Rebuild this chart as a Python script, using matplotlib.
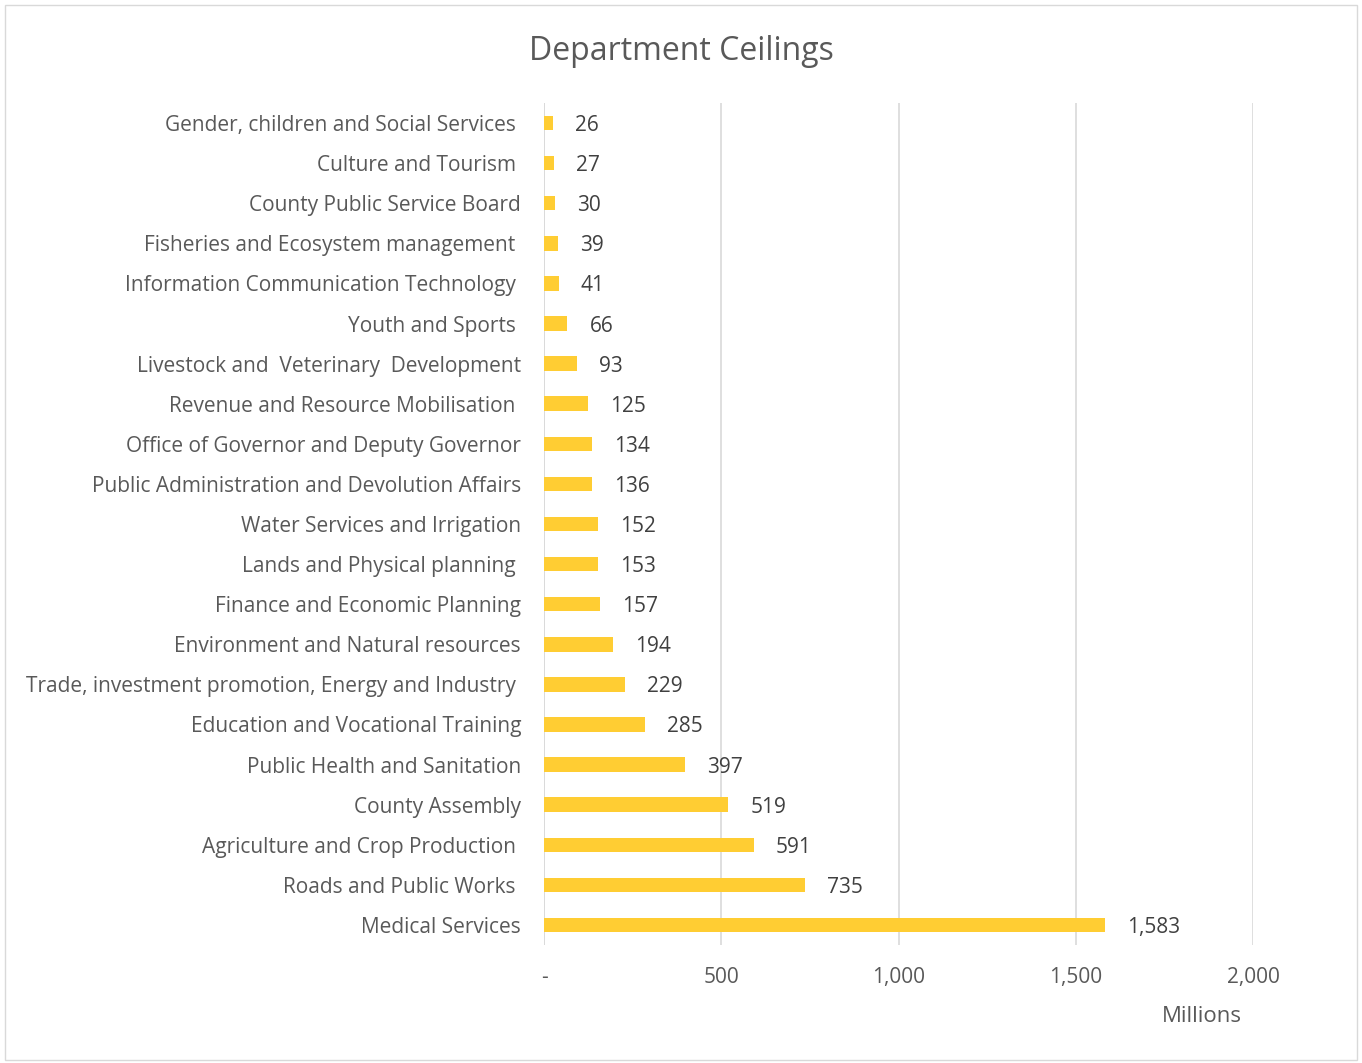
import matplotlib.pyplot as plt
from matplotlib.patches import Rectangle
from matplotlib.ticker import FuncFormatter

plt.rcParams['font.family'] = ['Open Sans', 'DejaVu Sans']

departments = ['Gender, children and Social Services ', 'Culture and Tourism ', 'County Public Service Board',
               'Fisheries and Ecosystem management ', 'Information Communication Technology ',
               'Youth and Sports ', 'Livestock and  Veterinary  Development',
               'Revenue and Resource Mobilisation ', 'Office of Governor and Deputy Governor',
               'Public Administration and Devolution Affairs', 'Water Services and Irrigation',
               'Lands and Physical planning ', 'Finance and Economic Planning',
               'Environment and Natural resources', 'Trade, investment promotion, Energy and Industry ',
               'Education and Vocational Training', 'Public Health and Sanitation', 'County Assembly',
               'Agriculture and Crop Production ', 'Roads and Public Works ', 'Medical Services']
ceilings = [26, 27, 30, 39, 41, 66, 93, 125, 134, 136, 152, 153, 157, 194, 229, 285, 397, 519, 591, 735, 1583]

BAR_COLOR = '#FFCD33'
TEXT_COLOR = '#595959'
FS = 15

fig = plt.figure(figsize=(13.62, 10.63), dpi=100)
ax = fig.add_axes([544/1362, 1-945/1063, (1253-544)/1362, (945-103)/1063])

ypos = list(range(len(departments)))
ax.barh(ypos, ceilings, height=0.36, color=BAR_COLOR, zorder=3)
ax.set_ylim(len(departments)-0.5, -0.5)
ax.set_xlim(0, 2000)
ax.set_yticks(ypos)
ax.set_yticklabels(departments, fontsize=FS, color=TEXT_COLOR)
ax.set_xticks([0, 500, 1000, 1500, 2000])
ax.xaxis.set_major_formatter(FuncFormatter(lambda v, p: '-' if v == 0 else '{:,.0f}'.format(v)))
ax.tick_params(axis='x', length=0, pad=16, labelsize=FS, labelcolor=TEXT_COLOR)
ax.tick_params(axis='y', length=0, pad=16.5)
for s in ax.spines.values():
    s.set_visible(False)
ax.grid(axis='x', color='#D9D9D9', linewidth=1.2, zorder=0)
ax.axvline(0, color='#D9D9D9', linewidth=1.2, zorder=1)

for y, v in zip(ypos, ceilings):
    ax.annotate('{:,}'.format(v), xy=(v, y), xytext=(16, 0), textcoords='offset points',
                va='center_baseline', ha='left', fontsize=FS, color='#404040')

fig.text(681/1362, 1-51/1063, 'Department Ceilings', ha='center', va='center', fontsize=23, color=TEXT_COLOR)
fig.text(1202/1362, 1-1017/1063, 'Millions', ha='center', va='center', fontsize=16, color=TEXT_COLOR)

fig.patches.append(Rectangle((5/1362, 3/1063), 1352/1362, 1055/1063, transform=fig.transFigure,
                             fill=False, edgecolor='#D9D9D9', linewidth=1))

fig.savefig('out.png', dpi=100)
